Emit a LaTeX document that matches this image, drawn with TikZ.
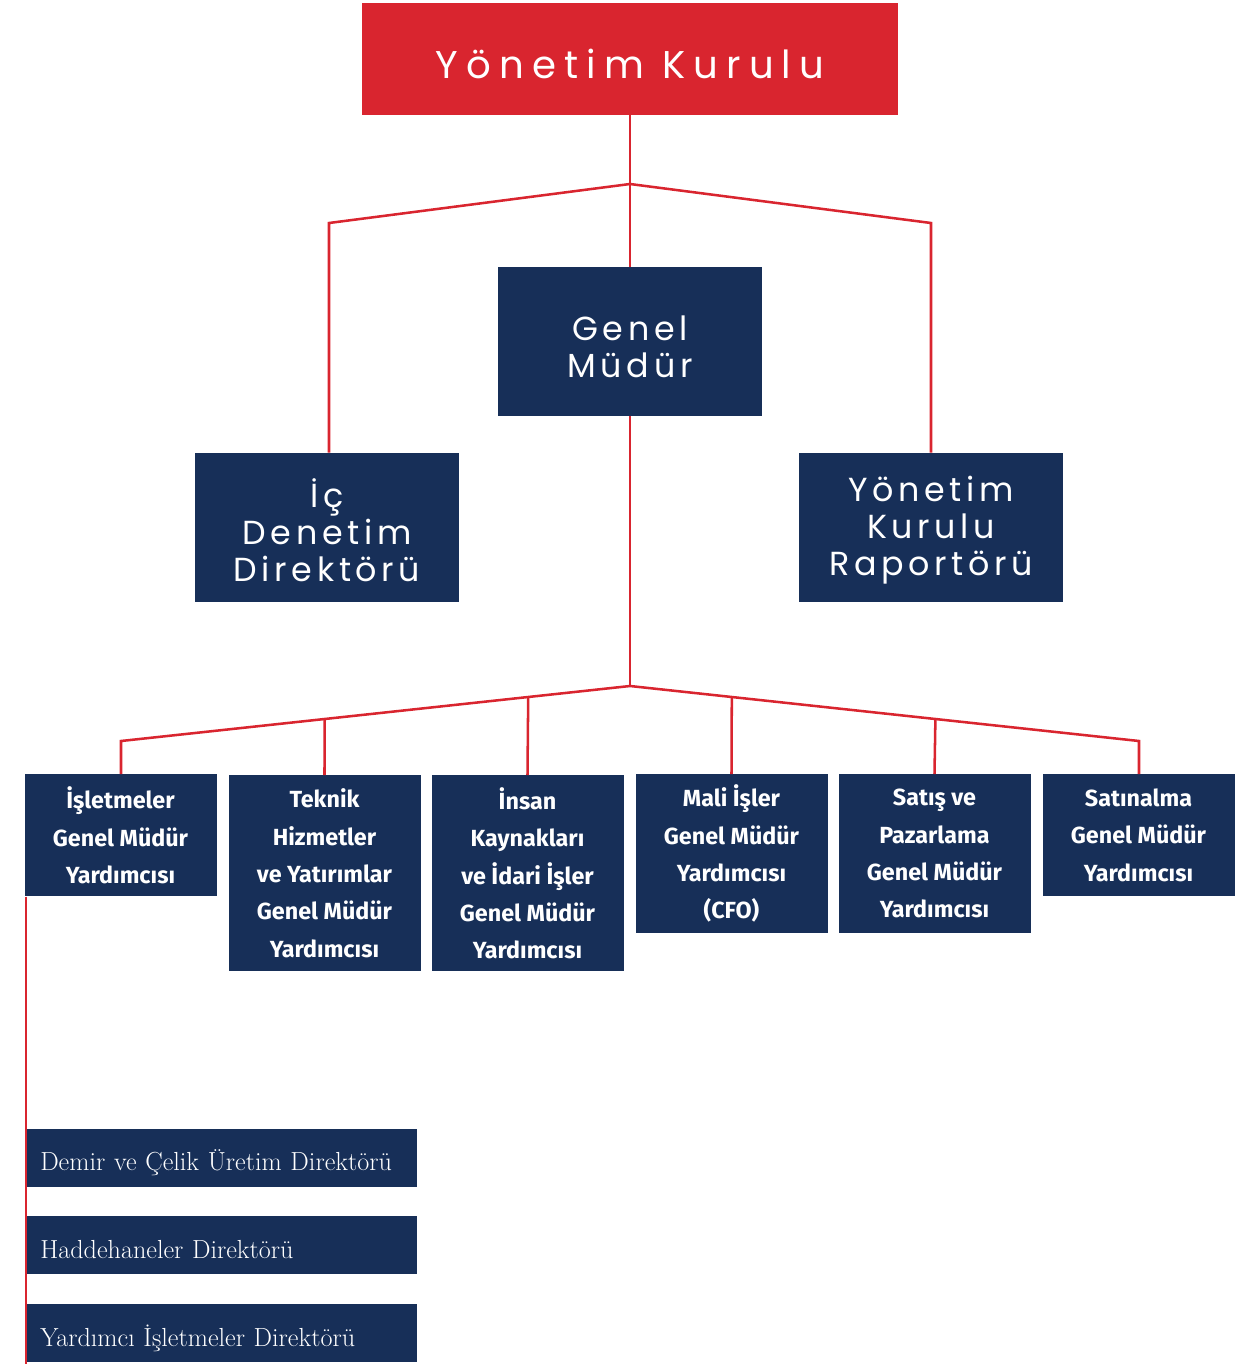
\documentclass[tikz,border=0pt]{standalone}
\usepackage{fontspec}
\usepackage{xcolor}
\usepackage{tikz}
\usetikzlibrary{calc}

\newfontfamily\boardfont[LetterSpace=21]{Poppins}
\newfontfamily\midfont[LetterSpace=14]{Poppins}
\newfontfamily\deptfont{Fira Sans}

\definecolor{boardred}{RGB}{217,37,47}
\definecolor{navy}{RGB}{23,47,88}

\tikzset{
  link/.style={draw=boardred, line width=1.9pt},
  navybox/.style={fill=navy, text=white, inner sep=0pt, align=center},
  midbox/.style={navybox, minimum width=198pt, minimum height=111.75pt},
  midtext/.style={text=white, inner sep=0pt, align=center,
    font=\midfont\fontsize{25}{27.75}\selectfont},
  deptbox/.style={navybox, anchor=north, minimum width=144pt,
    font=\deptfont\bfseries\fontsize{17.5}{28}\selectfont},
  dirbox/.style={navybox, anchor=west, minimum width=293.25pt, minimum height=43.5pt},
  dirtext/.style={text=white, inner sep=0pt, align=left, text width=272.25pt,
    font=\fontsize{19.6}{22}\selectfont, yshift=-3.75pt}
}

\begin{document}
\begin{tikzpicture}[x=0.75pt,y=0.75pt,yscale=-1,xscale=1]
\useasboundingbox (0,0) rectangle (1259,1364);

% Board
\node (board) [fill=boardred, minimum width=402pt, minimum height=84pt] at (630,59) {};
\node (boardtext) [text=white, inner sep=0pt, yshift=-3.75pt,
  font=\boardfont\fontsize{29}{30}\selectfont] at (board) {Yönetim Kurulu};

% Top level
\node (gm)  [midbox] at (630,341.5) {};
\node (ic)  [midbox] at (327,527.5) {};
\node (rap) [midbox] at (931,527.5) {};
\node (gmtext)  [midtext, yshift=-4pt]    at (gm)  {Genel\\Müdür};
\node (ictext)  [midtext, yshift=-2.25pt] at (ic)  {İç\\Denetim\\Direktörü};
\node (raptext) [midtext, yshift=-2.25pt] at (rap) {Yönetim\\Kurulu\\Raportörü};

% Deputy general managers
\node (d1) [deptbox, minimum height=91.5pt]  at (120.5,774) {İşletmeler\\Genel Müdür\\Yardımcısı};
\node (d2) [deptbox, minimum height=147pt]   at (324.5,775) {Teknik\\Hizmetler\\ve Yatırımlar\\Genel Müdür\\Yardımcısı};
\node (d3) [deptbox, minimum height=147pt]   at (527.5,775) {İnsan\\Kaynakları\\ve İdari İşler\\Genel Müdür\\Yardımcısı};
\node (d4) [deptbox, minimum height=119.25pt] at (731.5,774) {Mali İşler\\Genel Müdür\\Yardımcısı\\(CFO)};
\node (d5) [deptbox, minimum height=119.25pt] at (934.5,774) {Satış ve\\Pazarlama\\Genel Müdür\\Yardımcısı};
\node (d6) [deptbox, minimum height=91.5pt]  at (1138.5,774) {Satınalma\\Genel Müdür\\Yardımcısı};

% Directors
\node (r1) [dirbox] at (26,1158) {};
\node (r2) [dirbox] at (26,1245) {};
\node (r3) [dirbox] at (26,1333) {};
\node (r1text) [dirtext] at (r1) {Demir ve Çelik Üretim Direktörü};
\node (r2text) [dirtext] at (r2) {Haddehaneler Direktörü};
\node (r3text) [dirtext] at (r3) {Yardımcı İşletmeler Direktörü};

% Joints
\coordinate (j1) at (630,184);
\coordinate (lbend) at (329,223);
\coordinate (rbend) at (931,223);
\coordinate (j2) at (630,686);
\coordinate (lend) at (121,741);
\coordinate (rend) at (1139,741);
\coordinate (foot) at (26,1364);

% Lines
\draw [link] (board.south) -- (j1) -- (gm.north);
\draw [link] (ic.north -| lbend) -- (lbend) -- (j1) -- (rbend) -- (rap.north);
\draw [link] (gm.south) -- (j2);
\draw [link] (d1.north -| lend) -- (lend) -- (j2) -- (rend) -- (d6.north -| rend);
\draw [link] (d2.north) -- ($(lend)!0.4!(j2)$);
\draw [link] (d3.north) -- ($(lend)!0.8!(j2)$);
\draw [link] (d4.north) -- ($(rend)!0.8!(j2)$);
\draw [link] (d5.north) -- ($(rend)!0.4!(j2)$);
\draw [link] (d1.south west -| foot) -- (foot);

\end{tikzpicture}
\end{document}
